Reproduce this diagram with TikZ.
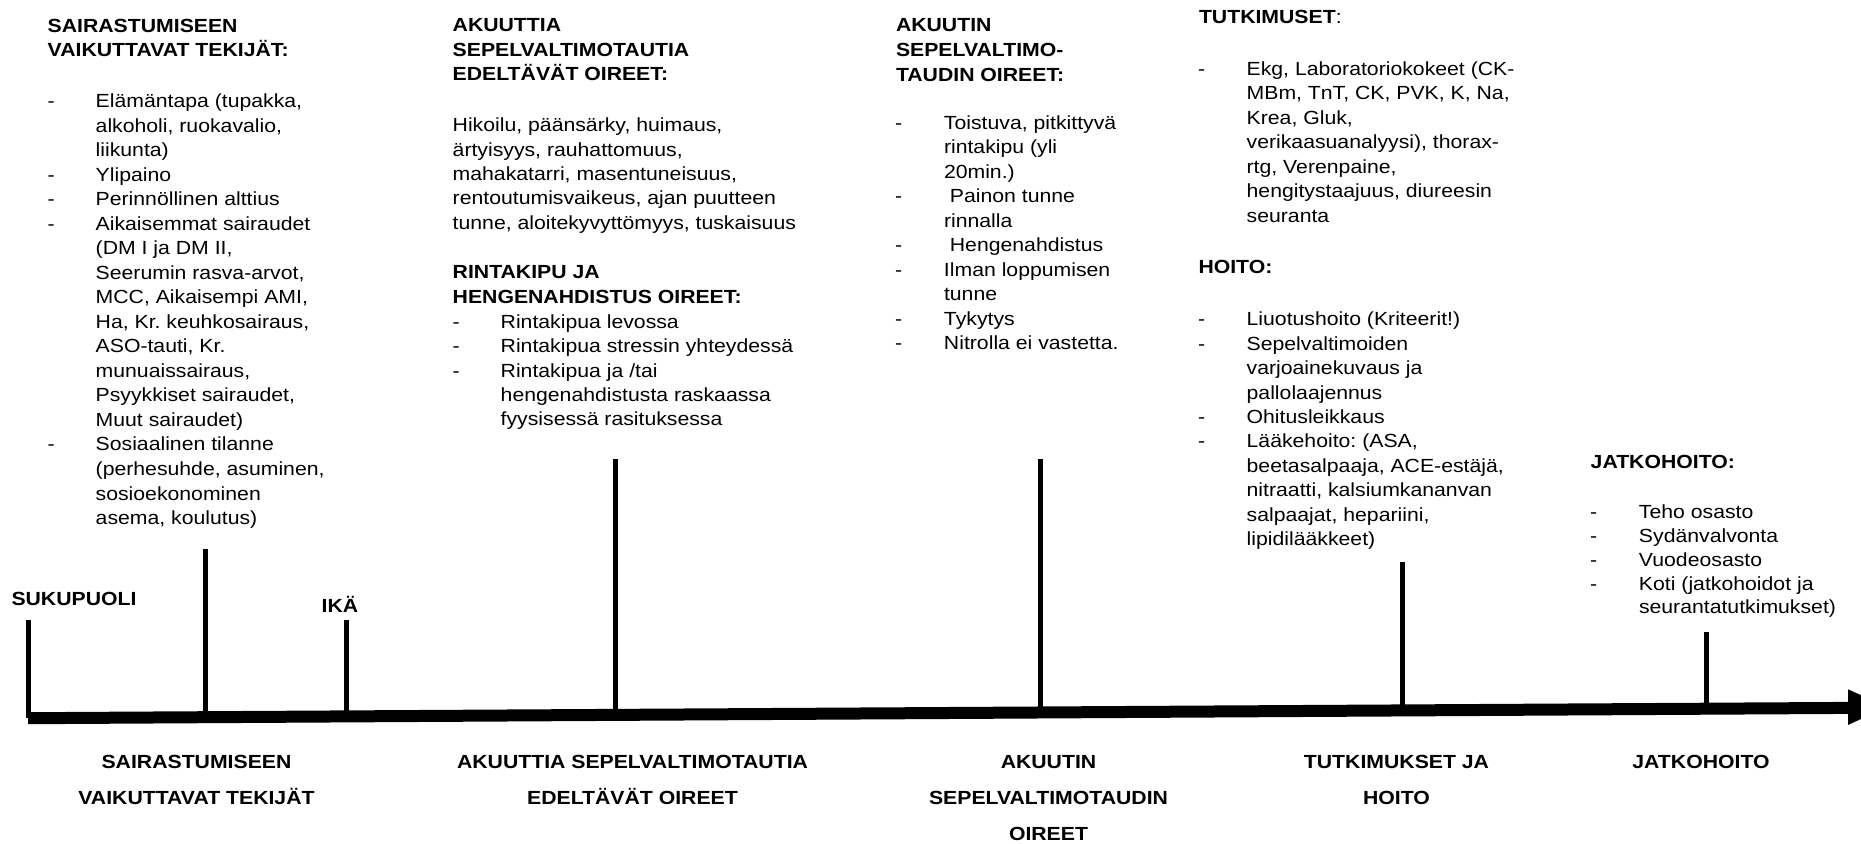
\documentclass[tikz,border=0pt]{standalone}
\usepackage{fontspec}
\setmainfont{Liberation Sans}[FakeStretch=1.117]
\frenchspacing

% Block of left-aligned lines; first baseline is the box baseline
\newcommand\linesblock[1]{\vtop{\halign{##\hfil\cr#1\crcr}}}
% Block of centred lines
\newcommand\centreblock[1]{\vtop{\halign{\hfil##\hfil\cr#1\crcr}}}
% Dashed list: dash column of given width, then the item text
\newcommand\dashblock[2]{\vtop{\halign{\hbox to #1{##\hfil}&##\hfil\cr#2\crcr}}}

\tikzset{
  txt/.style={inner sep=0pt, outer sep=0pt, anchor=base west},
  ctxt/.style={inner sep=0pt, outer sep=0pt, anchor=base},
  timetick/.style={line width=3.75pt, black},
}

\begin{document}
\begin{tikzpicture}[x=0.75pt, y=-0.75pt]
\useasboundingbox (0,0) rectangle (1861,843);
\clip (0,0) rectangle (1861,843);

% ---------- timeline axis ----------
\coordinate (axstart) at (28,718.2);
\coordinate (axend) at (1849,707.9);
\coordinate (headtop) at (1848,689.3);
\coordinate (headtip) at (1887,707);
\coordinate (headbot) at (1848,725);
\draw[line width=9pt] (axstart) -- (axend);
\fill (headtop) -- (headtip) -- (headbot) -- cycle;

% ---------- ticks ----------
\coordinate (t1top) at (28,620);    \coordinate (t1base) at (28,718);
\coordinate (t2top) at (205,549);   \coordinate (t2base) at (205,716);
\coordinate (t3top) at (346,620);   \coordinate (t3base) at (346,716);
\coordinate (t4top) at (615,459);   \coordinate (t4base) at (615,714);
\coordinate (t5top) at (1040,459);  \coordinate (t5base) at (1040,712);
\coordinate (t6top) at (1402,562);  \coordinate (t6base) at (1402,710);
\coordinate (t7top) at (1706.5,632);\coordinate (t7base) at (1706.5,708);
\foreach \k in {1,...,7}{\draw[timetick] (t\k top) -- (t\k base);}

% ---------- tick labels ----------
\node[txt, font={\fontsize{14.25pt}{17pt}\selectfont\bfseries}] (sukupuoli) at (11.5,605) {SUKUPUOLI};
\node[ctxt, font={\fontsize{14.25pt}{17pt}\selectfont\bfseries}] (ika) at (340,612.7) {IKÄ};

% ---------- column 1 ----------
\node[txt, font={\fontsize{14.25pt}{18.2pt}\selectfont\bfseries}] (c1title) at (47.7,32.1)
  {\linesblock{SAIRASTUMISEEN\cr VAIKUTTAVAT TEKIJÄT:}};
\node[txt, font={\fontsize{14.25pt}{18.38pt}\selectfont}] (c1list) at (47.7,107.9)
  {\dashblock{36pt}{%
  - & Elämäntapa (tupakka,\cr
    & alkoholi, ruokavalio,\cr
    & liikunta)\cr
  - & Ylipaino\cr
  - & Perinnöllinen alttius\cr
  - & Aikaisemmat sairaudet\cr
    & (DM I ja DM II,\cr
    & Seerumin rasva-arvot,\cr
    & MCC, Aikaisempi AMI,\cr
    & Ha, Kr. keuhkosairaus,\cr
    & ASO-tauti, Kr.\cr
    & munuaissairaus,\cr
    & Psyykkiset sairaudet,\cr
    & Muut sairaudet)\cr
  - & Sosiaalinen tilanne\cr
    & (perhesuhde, asuminen,\cr
    & sosioekonominen\cr
    & asema, koulutus)}};

% ---------- column 2 ----------
\node[txt, font={\fontsize{14.25pt}{18.3pt}\selectfont\bfseries}] (c2title) at (452.7,31.7)
  {\linesblock{AKUUTTIA\cr SEPELVALTIMOTAUTIA\cr EDELTÄVÄT OIREET:}};
\node[txt, font={\fontsize{14.25pt}{18.3pt}\selectfont}] (c2para) at (452.7,131.7)
  {\linesblock{Hikoilu, päänsärky, huimaus,\cr
   ärtyisyys, rauhattomuus,\cr
   mahakatarri, masentuneisuus,\cr
   rentoutumisvaikeus, ajan puutteen\cr
   tunne, aloitekyvyttömyys, tuskaisuus}};
\node[txt, font={\fontsize{14.25pt}{18.75pt}\selectfont\bfseries}] (c2head) at (452.7,278.3)
  {\linesblock{RINTAKIPU JA\cr HENGENAHDISTUS OIREET:}};
\node[txt, font={\fontsize{14.25pt}{18.3pt}\selectfont}] (c2list) at (452.7,328.3)
  {\dashblock{36pt}{%
  - & Rintakipua levossa\cr
  - & Rintakipua stressin yhteydessä\cr
  - & Rintakipua ja /tai\cr
    & hengenahdistusta raskaassa\cr
    & fyysisessä rasituksessa}};

% ---------- column 3 ----------
\node[txt, font={\fontsize{14.25pt}{18.49pt}\selectfont\bfseries}] (c3title) at (896,31.7)
  {\linesblock{AKUUTIN\cr SEPELVALTIMO-\cr TAUDIN OIREET:}};
\node[txt, font={\fontsize{14.25pt}{18.38pt}\selectfont}] (c3list) at (895,129.3)
  {\dashblock{36.75pt}{%
  - & Toistuva, pitkittyvä\cr
    & rintakipu (yli\cr
    & 20min.)\cr
  - & \ Painon tunne\cr
    & rinnalla\cr
  - & \ Hengenahdistus\cr
  - & Ilman loppumisen\cr
    & tunne\cr
  - & Tykytys\cr
  - & Nitrolla ei vastetta.}};

% ---------- column 4 ----------
\node[txt, font={\fontsize{14.25pt}{17.2pt}\selectfont}] (c4title) at (1199,23.2)
  {\textbf{TUTKIMUSET}:};
\node[txt, font={\fontsize{14.25pt}{18.38pt}\selectfont}] (c4list) at (1198,75)
  {\dashblock{36.5pt}{%
  - & Ekg, Laboratoriokokeet (CK-\cr
    & MBm, TnT, CK, PVK, K, Na,\cr
    & Krea, Gluk,\cr
    & verikaasuanalyysi), thorax-\cr
    & rtg, Verenpaine,\cr
    & hengitystaajuus, diureesin\cr
    & seuranta}};
\node[txt, font={\fontsize{14.25pt}{17.2pt}\selectfont\bfseries}] (c4head) at (1198.5,273.2)
  {HOITO:};
\node[txt, font={\fontsize{14.25pt}{18.33pt}\selectfont}] (c4care) at (1198,325.7)
  {\dashblock{36.5pt}{%
  - & Liuotushoito (Kriteerit!)\cr
  - & Sepelvaltimoiden\cr
    & varjoainekuvaus ja\cr
    & pallolaajennus\cr
  - & Ohitusleikkaus\cr
  - & Lääkehoito: (ASA,\cr
    & beetasalpaaja, ACE-estäjä,\cr
    & nitraatti, kalsiumkananvan\cr
    & salpaajat, hepariini,\cr
    & lipidilääkkeet)}};

% ---------- column 5 ----------
\node[txt, font={\fontsize{14.25pt}{17.8pt}\selectfont\bfseries}] (c5title) at (1590.7,468.5)
  {JATKOHOITO:};
\node[txt, font={\fontsize{14.25pt}{17.81pt}\selectfont}] (c5list) at (1590,518.8)
  {\dashblock{36.75pt}{%
  - & Teho osasto\cr
  - & Sydänvalvonta\cr
  - & Vuodeosasto\cr
  - & Koti (jatkohoidot ja\cr
    & seurantatutkimukset)}};

% ---------- phase names under the axis ----------
\tikzset{phase/.style={ctxt, font={\fontsize{14.25pt}{27pt}\selectfont\bfseries}}}
\node[phase] (p1) at (196.5,768.3) {\centreblock{SAIRASTUMISEEN\cr VAIKUTTAVAT TEKIJÄT}};
\node[phase] (p2) at (632.5,768.3) {\centreblock{AKUUTTIA SEPELVALTIMOTAUTIA\cr EDELTÄVÄT OIREET}};
\node[phase] (p3) at (1048.5,768.3) {\centreblock{AKUUTIN\cr SEPELVALTIMOTAUDIN\cr OIREET}};
\node[phase] (p4) at (1396.5,768.3) {\centreblock{TUTKIMUKSET JA\cr HOITO}};
\node[phase] (p5) at (1701,768.3) {\centreblock{JATKOHOITO}};
\end{tikzpicture}
\end{document}
